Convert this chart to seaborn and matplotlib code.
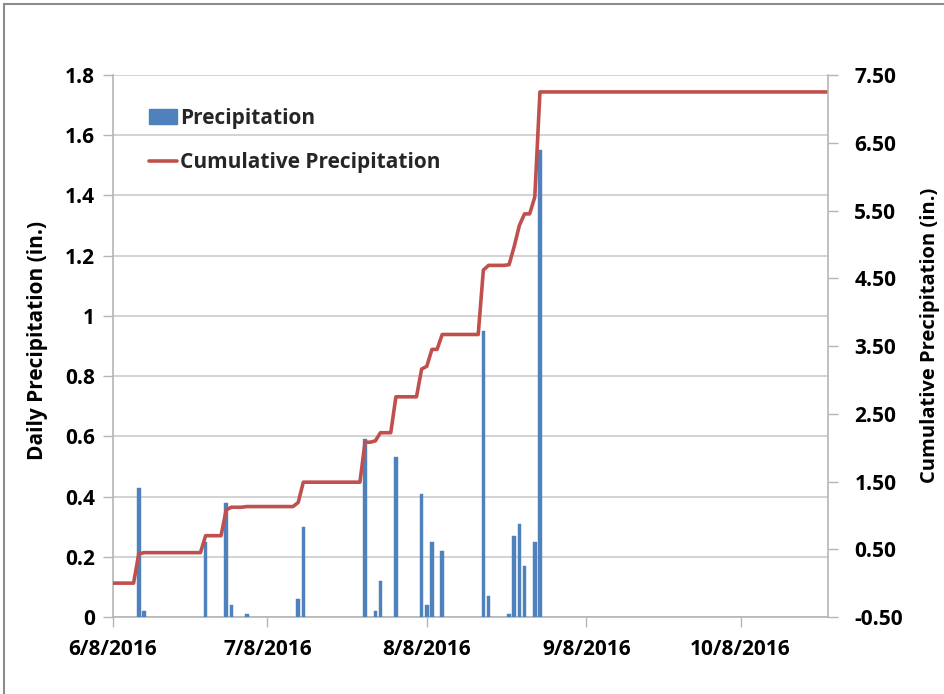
import numpy as np
import pandas as pd
import matplotlib
matplotlib.use("Agg")
import matplotlib.pyplot as plt
import matplotlib.dates as mdates
from matplotlib.ticker import FuncFormatter, FixedLocator
from matplotlib.lines import Line2D
from matplotlib.patches import Patch
import seaborn as sns

# ---------------- data ----------------
rain_dates = ["2016-06-13", "2016-06-14", "2016-06-26", "2016-06-30", "2016-07-01",
              "2016-07-04", "2016-07-14", "2016-07-15", "2016-07-27", "2016-07-29",
              "2016-07-30", "2016-08-02", "2016-08-07", "2016-08-08", "2016-08-09",
              "2016-08-11", "2016-08-19", "2016-08-20", "2016-08-24", "2016-08-25",
              "2016-08-26", "2016-08-27", "2016-08-29", "2016-08-30"]
rain_values = [0.43, 0.02, 0.25, 0.38, 0.04,
               0.01, 0.06, 0.30, 0.59, 0.02,
               0.12, 0.53, 0.41, 0.04, 0.25,
               0.22, 0.95, 0.07, 0.01, 0.27,
               0.31, 0.17, 0.25, 1.55]
start_date = "2016-06-08"
end_date = "2016-10-25"
x_tick_dates = ["2016-06-08", "2016-07-08", "2016-08-08", "2016-09-08", "2016-10-08"]
left_ticks = [0, 0.2, 0.4, 0.6, 0.8, 1.0, 1.2, 1.4, 1.6, 1.8]
right_ticks = [-0.5, 0.5, 1.5, 2.5, 3.5, 4.5, 5.5, 6.5, 7.5]
bar_label = "Precipitation"
line_label = "Cumulative Precipitation"
left_title = "Daily Precipitation (in.)"
right_title = "Cumulative Precipitation (in.)"

# daily series and cumulative sum
days = pd.date_range(start_date, end_date, freq="D")
daily = pd.Series(0.0, index=days)
daily[pd.to_datetime(rain_dates)] = rain_values
cumulative = daily.cumsum()

bar_df = pd.DataFrame({"x": mdates.date2num(pd.to_datetime(rain_dates)),
                       "y": rain_values})
line_df = pd.DataFrame({"x": mdates.date2num(days), "y": cumulative.values})

# ---------------- style ----------------
sns.set_theme(style="white")
plt.rcParams["font.family"] = ["Open Sans", "DejaVu Sans"]
plt.rcParams["font.weight"] = "bold"

BLUE = "#4F81BD"
RED = "#C0504D"
GRID = "#D0D0D0"
AXC = "#B5B5B5"
FS = 15

fig = plt.figure(figsize=(9.44, 6.94), dpi=100)
ax = fig.add_axes([113 / 944, 1 - 617 / 694, 715 / 944, 542 / 694])

sns.barplot(data=bar_df, x="x", y="y", native_scale=True, width=0.7,
            color=BLUE, saturation=1, ax=ax, zorder=3,
            edgecolor=BLUE, linewidth=0.3)
ax2 = ax.twinx()
sns.lineplot(data=line_df, x="x", y="y", color=RED, linewidth=2.6, ax=ax2)

x0 = mdates.date2num(pd.Timestamp(start_date))
x1 = mdates.date2num(pd.Timestamp(end_date))
ax.set_xlim(x0, x1)
ax.set_ylim(0, 1.8)
ax2.set_ylim(-0.5, 7.5)

ax.xaxis.set_major_locator(FixedLocator(mdates.date2num(pd.to_datetime(x_tick_dates))))
def date_fmt(v, pos):
    d = mdates.num2date(v)
    return f"{d.month}/{d.day}/{d.year}"
ax.xaxis.set_major_formatter(FuncFormatter(date_fmt))
ax.yaxis.set_major_locator(FixedLocator(left_ticks))
ax.yaxis.set_major_formatter(FuncFormatter(lambda v, p: f"{v:g}"))
ax2.yaxis.set_major_locator(FixedLocator(right_ticks))
ax2.yaxis.set_major_formatter(FuncFormatter(lambda v, p: f"{v:.2f}"))

ax.grid(axis="y", color=GRID, linewidth=1.3, zorder=0)
ax.grid(axis="x", visible=False)
ax2.grid(False)
ax.set_axisbelow(True)

for a in (ax, ax2):
    for s in a.spines.values():
        s.set_visible(False)
ax.spines["left"].set_visible(True)
ax.spines["bottom"].set_visible(True)
ax2.spines["right"].set_visible(True)
for s in (ax.spines["left"], ax.spines["bottom"], ax2.spines["right"]):
    s.set_color(AXC)
    s.set_linewidth(1.2)

ax.tick_params(axis="x", direction="out", length=7, width=1, color=AXC,
               labelsize=FS, labelcolor="black", pad=9, bottom=True)
ax.tick_params(axis="y", direction="out", length=7, width=1, color=AXC,
               labelsize=FS, labelcolor="black", pad=6, left=True)
ax2.tick_params(axis="y", direction="out", length=7, width=1, color=AXC,
                labelsize=FS, labelcolor="black", pad=12, right=True)
for lab in ax.get_xticklabels() + ax.get_yticklabels() + ax2.get_yticklabels():
    lab.set_fontweight("bold")

ax.set_xlabel("")
ax.set_ylabel(left_title, fontsize=15, fontweight="bold", color="black")
ax.yaxis.set_label_coords(-0.091, 0.51)
ax2.set_ylabel(right_title, fontsize=14.5, fontweight="bold", color="black")
ax2.yaxis.set_label_coords(1.128, 0.52)

handles = [Patch(facecolor=BLUE, edgecolor=BLUE),
           Line2D([], [], color=RED, linewidth=2.6)]
ax2.legend(handles, [bar_label, line_label], loc="upper left",
           bbox_to_anchor=(0.051, 0.94), frameon=False,
           prop=dict(weight="bold", size=FS), handlelength=1.3,
           handleheight=0.7, handletextpad=0.15, labelspacing=1.15,
           borderaxespad=0, borderpad=0)

# outer chart border (Excel-like frame)
fig.add_artist(Line2D([4 / 944, 1], [1 - 4 / 694, 1 - 4 / 694],
                      transform=fig.transFigure, color="#8C8C8C", linewidth=1.5))
fig.add_artist(Line2D([4 / 944, 4 / 944], [0, 1 - 4 / 694],
                      transform=fig.transFigure, color="#8C8C8C", linewidth=1.5))

fig.savefig("out.png", dpi=100, facecolor="white")
